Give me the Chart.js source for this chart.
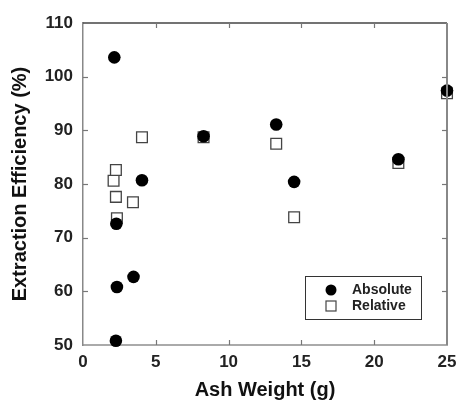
<!DOCTYPE html>
<html>
<head>
<meta charset="utf-8">
<script src="https://cdn.jsdelivr.net/npm/chart.js@4.4.1/dist/chart.umd.min.js"></script>
<style>
  html, body { margin:0; padding:0; background:#fff; }
  #wrap { width:459px; height:400px; }
</style>
</head>
<body>
<div id="wrap"><canvas id="c" width="459" height="400"></canvas></div>
<script>
// values
const seriesNames = ['Absolute', 'Relative'];
const absAsh = [2.15, 2.29, 2.33, 2.26, 3.47, 4.05, 8.28, 13.27, 14.5, 21.66, 25.0];
const absEff = [103.6, 72.6, 60.8, 50.8, 62.7, 80.7, 88.9, 91.1, 80.4, 84.6, 97.4];
const relAsh = [2.1, 2.26, 2.26, 2.33, 3.43, 4.05, 8.28, 13.27, 14.5, 21.66, 25.0];
const relEff = [80.6, 82.6, 77.6, 73.6, 76.6, 88.7, 88.7, 87.5, 73.8, 83.9, 96.9];
const xTicks = [0, 5, 10, 15, 20, 25];
const yTicks = [50, 60, 70, 80, 90, 100, 110];

function pts(xs, ys){ return xs.map((x,i)=>({x:x, y:ys[i]})); }

const FONT = '"Liberation Sans", Arial, sans-serif';

// inward tick marks, top/right frame lines and the boxed legend
const framePlugin = {
  id: 'frame',
  afterDraw(chart){
    const {ctx, chartArea:a, scales:{x, y}} = chart;
    ctx.save();
    // top and right frame
    ctx.strokeStyle = '#444'; ctx.lineWidth = 1.5;
    ctx.beginPath(); ctx.moveTo(a.left, a.top); ctx.lineTo(a.right, a.top); ctx.stroke();
    ctx.strokeStyle = '#888'; ctx.lineWidth = 2;
    ctx.beginPath(); ctx.moveTo(a.right, a.top); ctx.lineTo(a.right, a.bottom); ctx.stroke();
    // ticks
    ctx.strokeStyle = '#777'; ctx.lineWidth = 1.2;
    const tl = 5;
    for(const v of xTicks.slice(1, -1)){
      const px = Math.round(x.getPixelForValue(v)) + 0.5;
      ctx.beginPath(); ctx.moveTo(px, a.bottom); ctx.lineTo(px, a.bottom - tl); ctx.stroke();
      ctx.beginPath(); ctx.moveTo(px, a.top); ctx.lineTo(px, a.top + tl); ctx.stroke();
    }
    for(const v of yTicks.slice(1, -1)){
      const py = Math.round(y.getPixelForValue(v)) + 0.5;
      ctx.beginPath(); ctx.moveTo(a.left, py); ctx.lineTo(a.left + tl, py); ctx.stroke();
      ctx.beginPath(); ctx.moveTo(a.right, py); ctx.lineTo(a.right - tl, py); ctx.stroke();
    }
    // legend box
    const bw = 116, bh = 43;
    const bx = a.right - 26 - bw, by = a.bottom - 26 - bh;
    ctx.strokeStyle = '#333'; ctx.lineWidth = 1;
    ctx.fillStyle = '#fff';
    ctx.fillRect(bx, by, bw, bh);
    ctx.strokeRect(bx + 0.5, by + 0.5, bw, bh);
    const mx = bx + 26;
    const rows = [by + 14, by + 30];
    ctx.fillStyle = '#000';
    ctx.beginPath(); ctx.arc(mx, rows[0], 5.5, 0, Math.PI*2); ctx.fill();
    ctx.strokeStyle = '#444'; ctx.lineWidth = 1.2;
    ctx.strokeRect(mx - 5, rows[1] - 5, 10, 10);
    ctx.fillStyle = '#222';
    ctx.font = 'bold 14px ' + FONT;
    ctx.textBaseline = 'middle';
    ctx.textAlign = 'left';
    chart.data.datasets.forEach((ds, i) => ctx.fillText(ds.label, bx + 47, rows[i]));
    ctx.restore();
  }
};

new Chart(document.getElementById('c'), {
  type: 'scatter',
  data: {
    datasets: [
      { label: seriesNames[0], data: pts(absAsh, absEff), pointStyle: 'circle', pointRadius: 6.3,
        pointBackgroundColor: '#000', pointBorderColor: '#000', pointBorderWidth: 0, clip: false, order: 1 },
      { label: seriesNames[1], data: pts(relAsh, relEff), pointStyle: 'rect', pointRadius: 7.6,
        pointBackgroundColor: '#fff', pointBorderColor: '#444', pointBorderWidth: 1.3, clip: false, order: 2 }
    ]
  },
  options: {
    responsive: false,
    animation: false,
    layout: { padding: { top: 23, right: 12, left: 0, bottom: 0 } },
    plugins: { legend: { display: false }, tooltip: { enabled: false } },
    scales: {
      x: {
        type: 'linear', min: 0, max: 25,
        afterBuildTicks: s => { s.ticks = xTicks.map(v => ({value: v})); },
        afterFit: s => { s.height = 55; s.paddingLeft = 0; s.paddingRight = 0; },
        grid: { display: false, drawTicks: false },
        border: { display: true, color: '#aaa', width: 2 },
        ticks: { padding: 7, color: '#222', font: { family: FONT, size: 17, weight: 'bold' } },
        title: { display: true, text: 'Ash Weight (g)', color: '#111', padding: { top: 0, bottom: 0 },
                 font: { family: FONT, size: 20, weight: 'bold', lineHeight: 1.0 } }
      },
      y: {
        type: 'linear', min: 50, max: 110,
        afterBuildTicks: s => { s.ticks = yTicks.map(v => ({value: v})); },
        afterFit: s => { s.width = 83; s.paddingTop = 0; s.paddingBottom = 0; },
        grid: { display: false, drawTicks: false },
        border: { display: true, color: '#888', width: 1.5 },
        ticks: { padding: 10, color: '#222', font: { family: FONT, size: 17, weight: 'bold' } },
        title: { display: true, text: 'Extraction Efficiency (%)', color: '#111', padding: { top: 8, bottom: 0 },
                 font: { family: FONT, size: 20, weight: 'bold' } }
      }
    }
  },
  plugins: [framePlugin]
});
</script>
</body>
</html>
